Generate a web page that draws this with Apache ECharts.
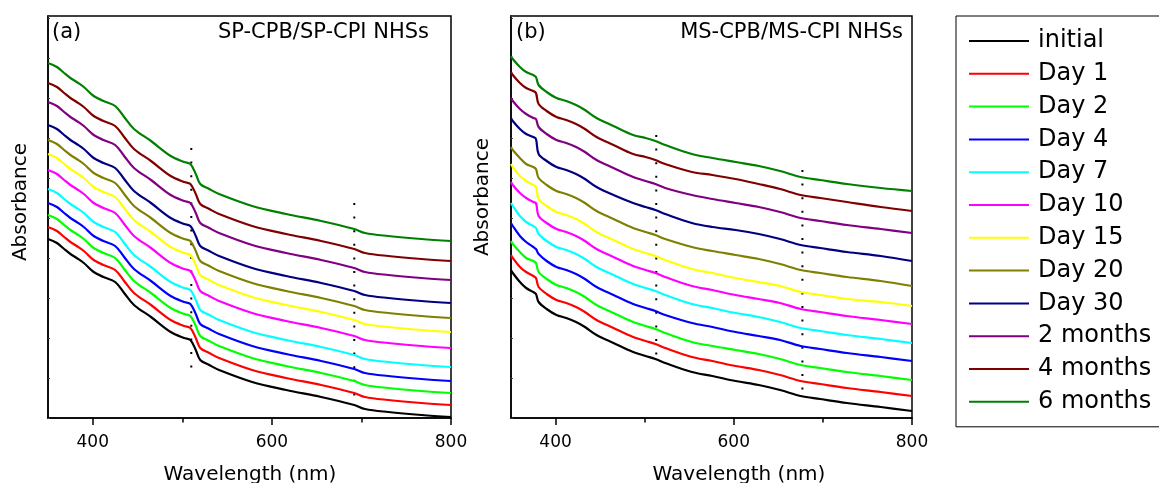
<!DOCTYPE html>
<html><head><meta charset="utf-8">
<style>html,body{margin:0;padding:0;background:#fff}#c{width:1159px;height:483px}</style>
<script src="https://cdn.jsdelivr.net/npm/echarts@6.0.0/dist/echarts.min.js"></script>
</head><body><div id="c"></div>
<script>
// ---- data (absorbance, arbitrary units, offset-stacked) ----
const seriesNames = ['initial','Day 1','Day 2','Day 4','Day 7','Day 10','Day 15','Day 20','Day 30','2 months','4 months','6 months'];
const lineColors = ['#000000','#FF0000','#00FF00','#0000FF','#00FFFF','#FF00FF','#FFFF00','#808000','#000080','#800080','#800000','#008000'];
const xTickValues = [400, 600, 800];
const xMinorTickValues = [500, 700];

// panel (a) SP-CPB/SP-CPI NHSs
const wavelengthA = [350,360,368,375,382,390,401,412,425,435,446,465,487,502,509,515,520,530,541,578,616,655,692,704,730,767,800];
const aInitial = [1.79,1.75,1.69,1.64,1.60,1.55,1.46,1.41,1.36,1.25,1.13,1.01,0.86,0.80,0.78,0.68,0.58,0.53,0.48,0.36,0.28,0.21,0.13,0.09,0.06,0.03,0.01];
const aDay1 = [1.91,1.87,1.81,1.76,1.72,1.67,1.58,1.53,1.48,1.37,1.25,1.13,0.98,0.92,0.90,0.80,0.70,0.65,0.60,0.48,0.40,0.33,0.25,0.21,0.18,0.15,0.13];
const aDay2 = [2.03,1.99,1.93,1.88,1.84,1.79,1.70,1.65,1.60,1.49,1.37,1.25,1.10,1.04,1.02,0.92,0.82,0.77,0.72,0.60,0.52,0.45,0.37,0.33,0.30,0.27,0.25];
const aDay4 = [2.15,2.11,2.05,2.00,1.96,1.91,1.82,1.77,1.72,1.61,1.49,1.37,1.22,1.16,1.14,1.04,0.94,0.89,0.84,0.72,0.64,0.57,0.49,0.45,0.42,0.39,0.37];
const aDay7 = [2.29,2.25,2.19,2.14,2.10,2.05,1.96,1.91,1.86,1.75,1.63,1.51,1.36,1.30,1.28,1.18,1.08,1.03,0.98,0.86,0.78,0.71,0.63,0.59,0.56,0.53,0.51];
const aDay10 = [2.48,2.44,2.38,2.33,2.29,2.24,2.15,2.10,2.05,1.94,1.82,1.70,1.55,1.49,1.47,1.37,1.27,1.22,1.17,1.05,0.97,0.90,0.82,0.78,0.75,0.72,0.70];
const aDay15 = [2.64,2.60,2.54,2.49,2.45,2.40,2.31,2.26,2.21,2.10,1.98,1.86,1.71,1.65,1.63,1.53,1.43,1.38,1.33,1.21,1.13,1.06,0.98,0.94,0.91,0.88,0.86];
const aDay20 = [2.78,2.74,2.68,2.63,2.59,2.54,2.45,2.40,2.35,2.24,2.12,2.00,1.85,1.79,1.77,1.67,1.57,1.52,1.47,1.35,1.27,1.20,1.12,1.08,1.05,1.02,1.00];
const aDay30 = [2.93,2.89,2.83,2.78,2.74,2.69,2.60,2.55,2.50,2.39,2.27,2.15,2.00,1.94,1.92,1.82,1.72,1.67,1.62,1.50,1.42,1.35,1.27,1.23,1.20,1.17,1.15];
const aMonth2 = [3.16,3.12,3.06,3.01,2.97,2.92,2.83,2.78,2.73,2.62,2.50,2.38,2.23,2.17,2.15,2.05,1.95,1.90,1.85,1.73,1.65,1.58,1.50,1.46,1.43,1.40,1.38];
const aMonth4 = [3.35,3.31,3.25,3.20,3.16,3.11,3.02,2.97,2.92,2.81,2.69,2.57,2.42,2.36,2.34,2.24,2.14,2.09,2.04,1.92,1.84,1.77,1.69,1.65,1.62,1.59,1.57];
const aMonth6 = [3.55,3.51,3.45,3.40,3.36,3.31,3.22,3.17,3.12,3.01,2.89,2.77,2.62,2.56,2.54,2.44,2.34,2.29,2.24,2.12,2.04,1.97,1.89,1.85,1.82,1.79,1.77];
const aGuideX = [510, 692];
const aGuideTop = [2.70, 2.15];
const aGuideBottom = [0.40, 0.12];

// panel (b) MS-CPB/MS-CPI NHSs
const wavelengthB = [350,352,360,367,375,378,381,390,401,412,423,433,446,465,487,501,512,523,553,576,602,628,652,675,697,727,765,800];
const bInitial = [1.48,1.45,1.36,1.30,1.26,1.24,1.16,1.09,1.03,1.00,0.96,0.91,0.83,0.75,0.66,0.62,0.59,0.55,0.46,0.42,0.37,0.33,0.28,0.22,0.19,0.15,0.11,0.07];
const bDay1 = [1.63,1.60,1.51,1.46,1.42,1.40,1.31,1.24,1.18,1.15,1.11,1.06,0.98,0.90,0.81,0.77,0.74,0.70,0.61,0.57,0.52,0.48,0.43,0.37,0.34,0.30,0.26,0.22];
const bDay2 = [1.77,1.74,1.66,1.60,1.57,1.55,1.46,1.39,1.33,1.30,1.26,1.21,1.13,1.05,0.96,0.92,0.89,0.85,0.76,0.72,0.68,0.64,0.59,0.53,0.50,0.46,0.42,0.38];
const bDay4 = [1.95,1.92,1.82,1.76,1.71,1.69,1.64,1.57,1.51,1.48,1.44,1.39,1.31,1.23,1.14,1.10,1.07,1.03,0.95,0.91,0.86,0.82,0.78,0.72,0.69,0.65,0.61,0.57];
const bDay7 = [2.15,2.12,2.02,1.96,1.92,1.90,1.84,1.77,1.71,1.68,1.64,1.59,1.51,1.43,1.34,1.30,1.27,1.23,1.14,1.10,1.05,1.01,0.96,0.90,0.87,0.83,0.79,0.75];
const bDay10 = [2.36,2.33,2.25,2.20,2.16,2.15,2.02,1.95,1.89,1.86,1.82,1.77,1.69,1.61,1.52,1.48,1.45,1.41,1.32,1.28,1.23,1.19,1.15,1.09,1.06,1.02,0.98,0.94];
const bDay15 = [2.54,2.51,2.42,2.37,2.33,2.31,2.19,2.12,2.06,2.03,1.99,1.94,1.86,1.78,1.69,1.65,1.62,1.58,1.49,1.45,1.40,1.36,1.32,1.26,1.23,1.19,1.16,1.12];
const bDay20 = [2.71,2.68,2.60,2.54,2.51,2.49,2.40,2.33,2.27,2.24,2.20,2.15,2.07,1.99,1.90,1.86,1.83,1.79,1.71,1.67,1.63,1.59,1.54,1.48,1.45,1.41,1.37,1.32];
const bDay30 = [3.00,2.97,2.89,2.84,2.81,2.79,2.64,2.57,2.51,2.48,2.44,2.39,2.31,2.23,2.15,2.11,2.08,2.04,1.95,1.91,1.88,1.84,1.79,1.73,1.70,1.66,1.62,1.57];
const bMonth2 = [3.20,3.17,3.09,3.04,3.00,2.99,2.91,2.84,2.78,2.75,2.71,2.66,2.58,2.50,2.41,2.37,2.34,2.30,2.23,2.19,2.15,2.11,2.06,2.00,1.97,1.93,1.89,1.85];
const bMonth4 = [3.46,3.43,3.35,3.30,3.27,3.25,3.14,3.07,3.01,2.98,2.94,2.89,2.81,2.73,2.64,2.61,2.58,2.54,2.46,2.43,2.39,2.34,2.29,2.23,2.20,2.16,2.11,2.07];
const bMonth6 = [3.62,3.59,3.51,3.46,3.43,3.41,3.33,3.26,3.20,3.17,3.13,3.08,3.00,2.92,2.83,2.80,2.77,2.73,2.64,2.60,2.56,2.52,2.47,2.41,2.38,2.34,2.30,2.27];
const bGuideX = [513, 677];
const bGuideTop = [2.83, 2.48];
const bGuideBottom = [0.52, 0.18];

const panelA = [aInitial,aDay1,aDay2,aDay4,aDay7,aDay10,aDay15,aDay20,aDay30,aMonth2,aMonth4,aMonth6];
const panelB = [bInitial,bDay1,bDay2,bDay4,bDay7,bDay10,bDay15,bDay20,bDay30,bMonth2,bMonth4,bMonth6];

// ---- chart ----
const FONT = 'DejaVu Sans';
const chart = echarts.init(document.getElementById('c'), null, {renderer: 'canvas'});
const pairs = (xs, ys) => xs.map((x, i) => [x, ys[i]]);

function majorX(gi) {
  return {type:'value', gridIndex: gi, position:'bottom', min:350, max:800,
    axisLine:{show:true, lineStyle:{color:'#000', width:1.5}},
    axisTick:{show:true, customValues:xTickValues, length:7, lineStyle:{color:'#000', width:1.5}},
    axisLabel:{show:true, customValues:xTickValues, margin:16, fontSize:17, color:'#000', fontFamily:FONT},
    splitLine:{show:false}};
}
function minorX(gi) {
  return {type:'value', gridIndex: gi, position:'bottom', min:350, max:800,
    axisLine:{show:false},
    axisTick:{show:true, customValues:xMinorTickValues, length:4.5, lineStyle:{color:'#000', width:1.5}},
    axisLabel:{show:false}, splitLine:{show:false}};
}
function yAx(gi) {
  return {type:'value', gridIndex: gi, min:0, max:4.02, interval:0.4,
    axisLine:{show:true, lineStyle:{color:'#000', width:1.5}},
    axisTick:{show:true, inside:true, length:2, lineStyle:{color:'#444', width:1}},
    axisLabel:{show:false}, splitLine:{show:false}};
}

const series = [];
function addPanel(wl, curves, xi, yi) {
  curves.forEach((ys, k) => {
    series.push({type:'line', name: seriesNames[k], xAxisIndex: xi, yAxisIndex: yi,
      data: pairs(wl, ys), symbol:'none', showSymbol:false, smooth:0.35,
      lineStyle:{color: lineColors[k], width:2.2}, itemStyle:{color: lineColors[k]},
      emphasis:{disabled:true}, z: 3});
  });
}
function addGuides(gx, top, bottom, xi, yi) {
  gx.forEach((x, i) => {
    series.push({type:'line', xAxisIndex: xi, yAxisIndex: yi, data:[[x, top[i]], [x, bottom[i]]],
      symbol:'none', silent:true, lineStyle:{color:'#000', width:2, type:[2, 11.6], cap:'butt'}, z: 2});
  });
}
addGuides(aGuideX, aGuideTop, aGuideBottom, 0, 0);
addGuides(bGuideX, bGuideTop, bGuideBottom, 2, 1);
addPanel(wavelengthA, panelA, 0, 0);
addPanel(wavelengthB, panelB, 2, 1);

function txt(text, x, y, size, align, rot) {
  return {type:'text', x: x, y: y, rotation: rot || 0,
    style:{text: text, font: size + 'px "' + FONT + '"', fill:'#000',
      align: align, verticalAlign:'middle', textAlign: align, textVerticalAlign:'middle'}};
}

chart.setOption({
  animation:false,
  backgroundColor:'#fff',
  textStyle:{fontFamily:FONT},
  grid:[
    {left:48, top:16, width:403, height:402, show:true, borderColor:'#000', borderWidth:1.5, backgroundColor:'transparent'},
    {left:511, top:16, width:401, height:402, show:true, borderColor:'#000', borderWidth:1.5, backgroundColor:'transparent'}
  ],
  xAxis:[majorX(0), minorX(0), majorX(1), minorX(1)],
  yAxis:[yAx(0), yAx(1)],
  legend:{
    data: seriesNames, orient:'vertical', left:956, top:16,
    padding:[13, 30, 13, 13], itemGap:8.8, itemWidth:60, itemHeight:2,
    icon:'rect',
    borderColor:'#000', borderWidth:1, backgroundColor:'#fff',
    selectedMode:false,
    textStyle:{fontSize:24, lineHeight:24, color:'#000', fontFamily:FONT, padding:[0,0,0,4]}
  },
  graphic:[
    txt('(a)', 52, 33, 21, 'left'),
    txt('SP-CPB/SP-CPI NHSs', 429, 33, 21, 'right'),
    txt('(b)', 516, 33, 21, 'left'),
    txt('MS-CPB/MS-CPI NHSs', 903, 33, 21, 'right'),
    txt('Wavelength (nm)', 250, 475, 20, 'center'),
    txt('Wavelength (nm)', 739, 475, 20, 'center'),
    txt('Absorbance', 21, 202, 20, 'center', Math.PI/2),
    txt('Absorbance', 483, 197, 20, 'center', Math.PI/2)
  ],
  series: series
});
</script></body></html>
